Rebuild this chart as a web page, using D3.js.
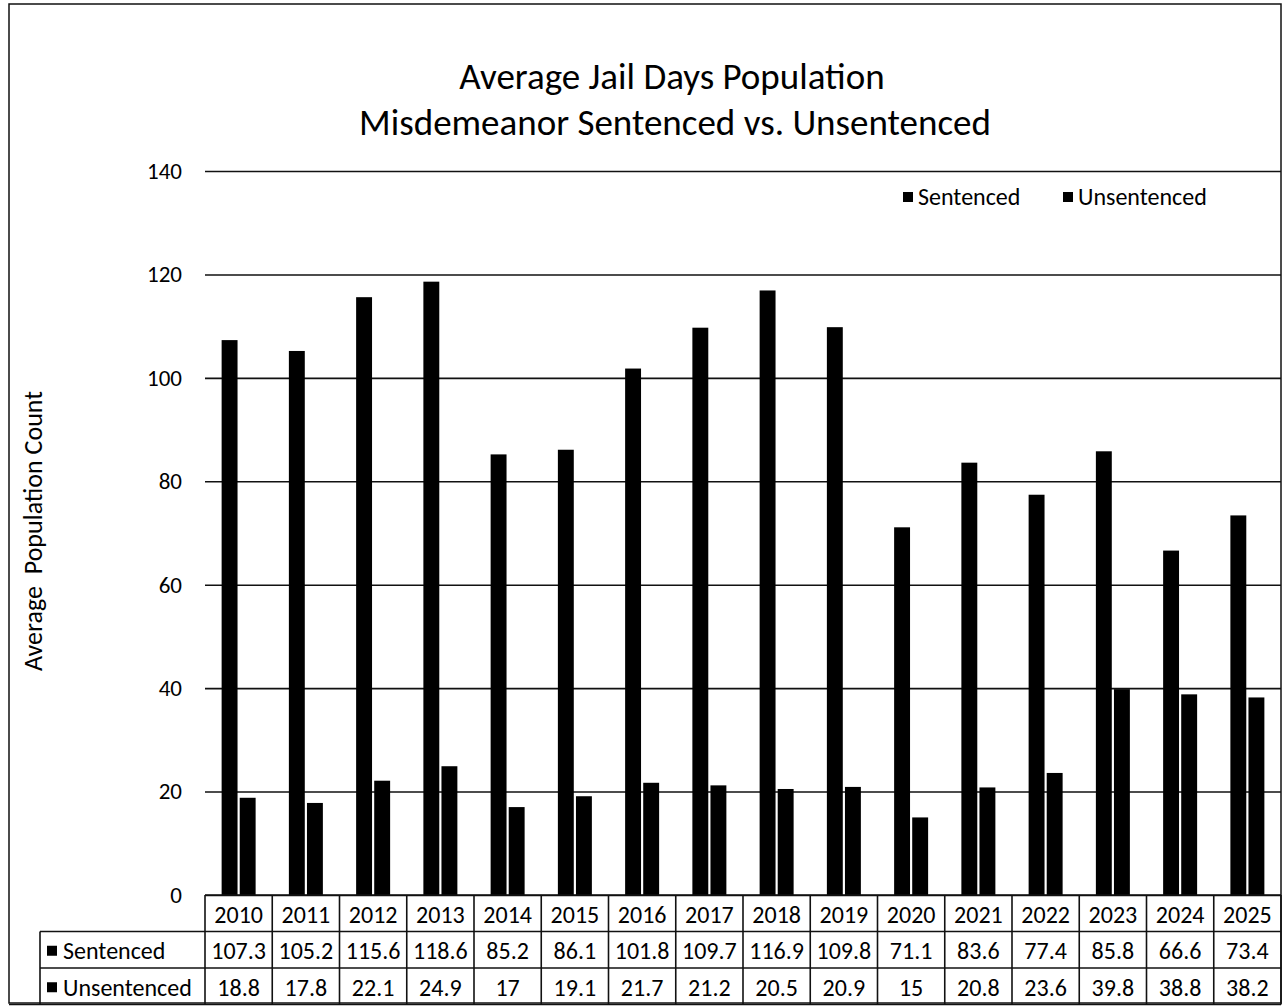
<!DOCTYPE html>
<html lang="en">
<head>
  <meta charset="UTF-8">
  <title>Average Jail Days Population</title>
  <style>
    body { margin: 0; background: #fff; }
    svg { display: block; }
    text { font-family: Carlito, Lato, "Open Sans", sans-serif; fill: #000; }
  </style>
</head>
<body>
  <div id="chart"></div>
  <script src="https://d3js.org/d3.v7.min.js"></script>
  <script>
    const years = ['2010','2011','2012','2013','2014','2015','2016','2017','2018','2019','2020','2021','2022','2023','2024','2025'];
    const sentenced = [107.3,105.2,115.6,118.6,85.2,86.1,101.8,109.7,116.9,109.8,71.1,83.6,77.4,85.8,66.6,73.4];
    const unsentenced = [18.8,17.8,22.1,24.9,17,19.1,21.7,21.2,20.5,20.9,15,20.8,23.6,39.8,38.8,38.2];
    const seriesNames = ['Sentenced','Unsentenced'];
    const yTicks = [0,20,40,60,80,100,120,140];

    const WIDTH = 1283, HEIGHT = 1008;
    const plot = {left:205, right:1281, top:171, bottom:895};
    const rowH = 36.5;
    const labelColLeft = 40;
    const FS = 24; // table / legend font size

    const svg = d3.select('#chart').append('svg')
      .attr('width', WIDTH).attr('height', HEIGHT);

    const x = d3.scaleBand().domain(years).range([plot.left, plot.right]);
    const xInner = d3.scaleBand().domain(seriesNames).range([0, 34]).paddingInner(0.12);
    const y = d3.scaleLinear().domain([0,140]).range([plot.bottom, plot.top]);

    // outer frame
    svg.append('rect')
      .attr('x', 9).attr('y', 4)
      .attr('width', plot.right - 9).attr('height', 1003 - 4)
      .attr('fill','none').attr('stroke','#111').attr('stroke-width',1.5);

    // title
    const title = svg.append('text').attr('text-anchor','middle').attr('font-size', 37);
    title.append('tspan').attr('x', 672).attr('y', 89).text('Average Jail Days Population');
    title.append('tspan').attr('x', 675).attr('y', 135).text('Misdemeanor Sentenced vs. Unsentenced');

    // gridlines and y axis labels
    const yAxis = d3.axisLeft(y).tickValues(yTicks).tickSize(-(plot.right - plot.left)).tickPadding(23);
    const gy = svg.append('g').attr('transform', `translate(${plot.left},0)`).call(yAxis);
    gy.select('.domain').remove();
    gy.selectAll('.tick line').attr('stroke','#111').attr('stroke-width',1.6);
    gy.selectAll('.tick text').attr('font-size', 23).attr('fill','#000');

    svg.append('text')
      .attr('transform', `translate(42,531) rotate(-90)`)
      .attr('text-anchor','middle').attr('font-size', 26)
      .text('Average\u00a0\u00a0Population Count');

    // bars
    const groups = svg.append('g').selectAll('g')
      .data(years.map((yr,i) => ({yr, vals:[sentenced[i], unsentenced[i]]})))
      .join('g')
      .attr('transform', d => `translate(${x(d.yr) + (x.bandwidth() - 34)/2},0)`);
    groups.selectAll('rect')
      .data(d => d.vals.map((v,j) => ({name: seriesNames[j], v})))
      .join('rect')
      .attr('x', d => xInner(d.name))
      .attr('width', xInner.bandwidth())
      .attr('y', d => y(d.v))
      .attr('height', d => y(0) - y(d.v))
      .attr('fill','#000');

    // legend
    const legend = [{name:'Sentenced', x:903}, {name:'Unsentenced', x:1063}];
    legend.forEach(l => {
      svg.append('rect').attr('x', l.x).attr('y', 192).attr('width', 10).attr('height', 10).attr('fill','#000');
      svg.append('text').attr('x', l.x + 15).attr('y', 205).attr('font-size', FS).text(l.name);
    });

    // data table
    const tbl = svg.append('g');
    const lineStyle = s => s.attr('stroke','#111').attr('stroke-width',1.6);
    const r0 = plot.bottom, r1 = r0 + rowH, r2 = r1 + rowH, r3 = r2 + rowH;
    // horizontal lines
    tbl.append('line').attr('x1', plot.left).attr('x2', plot.right).attr('y1', r0).attr('y2', r0).call(lineStyle);
    tbl.append('line').attr('x1', labelColLeft).attr('x2', plot.right).attr('y1', r1).attr('y2', r1).call(lineStyle);
    tbl.append('line').attr('x1', labelColLeft).attr('x2', plot.right).attr('y1', r2).attr('y2', r2).call(lineStyle);
    tbl.append('line').attr('x1', 9).attr('x2', plot.right).attr('y1', r3).attr('y2', r3).call(lineStyle);
    // vertical lines
    tbl.append('line').attr('x1', labelColLeft).attr('x2', labelColLeft).attr('y1', r1).attr('y2', r3).call(lineStyle);
    years.forEach(yr => {
      tbl.append('line').attr('x1', x(yr)).attr('x2', x(yr)).attr('y1', r0).attr('y2', r3).call(lineStyle);
    });
    tbl.append('line').attr('x1', plot.right).attr('x2', plot.right).attr('y1', r0).attr('y2', r3).call(lineStyle);

    const cellText = (txt, cx, cy) => tbl.append('text')
      .attr('x', cx).attr('y', cy).attr('text-anchor','middle')
      .attr('dominant-baseline','central').attr('font-size', FS).text(txt);

    years.forEach((yr,i) => {
      const cx = x(yr) + x.bandwidth()/2;
      cellText(yr, cx, (r0 + r1)/2 + 1);
      cellText(sentenced[i], cx, (r1 + r2)/2 + 1);
      cellText(unsentenced[i], cx, (r2 + r3)/2 + 1);
    });

    [[seriesNames[0], r1], [seriesNames[1], r2]].forEach(([name, top]) => {
      tbl.append('rect').attr('x', 47).attr('y', top + rowH/2 - 4).attr('width', 10).attr('height', 10).attr('fill','#000');
      tbl.append('text').attr('x', 63).attr('y', top + rowH/2 + 1)
        .attr('dominant-baseline','central').attr('font-size', FS).text(name);
    });
  </script>
</body>
</html>
